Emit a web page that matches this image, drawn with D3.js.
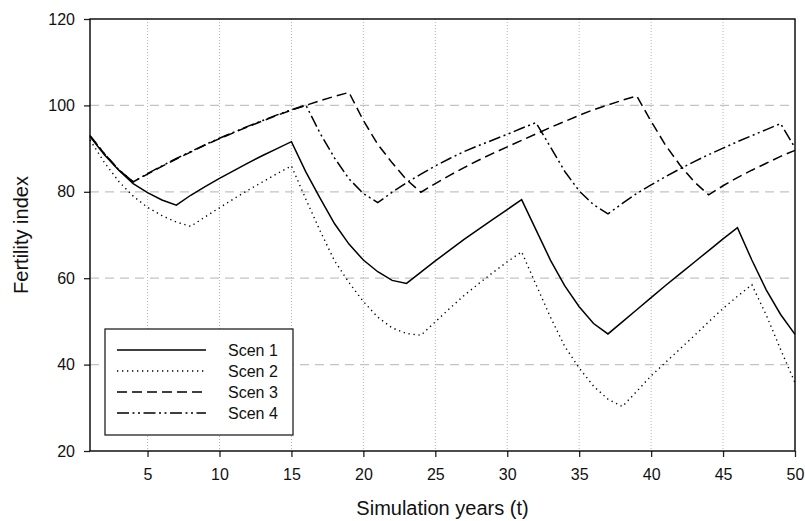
<!DOCTYPE html>
<html>
<head>
<meta charset="utf-8">
<script src="https://cdn.jsdelivr.net/npm/d3@7"></script>
<style>
	body { margin: 0; background: #fff; }
	svg { display: block; font-family: "Liberation Sans", Arial, sans-serif; }
</style>
</head>
<body>
<svg id="chart"></svg>
<script>
'use strict';

// simulation years
var years = [1, 2, 3, 4, 5, 6, 7, 8, 9, 10, 11, 12, 13, 14, 15, 16, 17, 18, 19, 20,
	21, 22, 23, 24, 25, 26, 27, 28, 29, 30, 31, 32, 33, 34, 35, 36, 37, 38, 39, 40,
	41, 42, 43, 44, 45, 46, 47, 48, 49, 50];

// fertility index per scenario
var scen1 = [92.8, 88.6, 85.0, 81.9, 79.8, 78.1, 76.9, 79.2, 81.2, 83.1,
	84.9, 86.7, 88.4, 90.0, 91.6, 84.6, 78.5, 72.6, 67.9, 64.2,
	61.5, 59.5, 58.8, 61.4, 64.0, 66.5, 69.0, 71.3, 73.6, 75.9,
	78.2, 71.2, 64.2, 58.2, 53.4, 49.5, 47.1, 49.9, 52.7, 55.5,
	58.3, 61.0, 63.7, 66.4, 69.1, 71.7, 64.2, 57.3, 51.6, 47.0];
var scen2 = [92.0, 86.8, 82.4, 79.0, 76.4, 74.5, 73.0, 72.0, 74.2, 76.3,
	78.4, 80.4, 82.3, 84.2, 86.0, 78.3, 70.9, 64.0, 59.0, 54.6,
	51.0, 48.5, 47.2, 46.8, 49.9, 53.0, 56.0, 58.7, 61.3, 63.8,
	66.1, 58.5, 51.0, 44.2, 39.2, 35.0, 32.0, 30.3, 33.8, 37.4,
	40.5, 43.6, 46.7, 49.9, 53.0, 55.8, 58.5, 51.5, 43.5, 35.8];
var scen3 = [93.0, 88.8, 85.1, 82.3, 84.1, 85.9, 87.6, 89.2, 90.8, 92.3,
	93.7, 95.1, 96.4, 97.7, 98.9, 100.0, 101.1, 102.1, 103.0, 96.5,
	91.0, 86.7, 82.8, 79.9, 81.9, 83.8, 85.6, 87.3, 88.9, 90.4,
	91.9, 93.4, 94.9, 96.3, 97.7, 99.0, 100.1, 101.2, 102.2, 96.3,
	90.8, 86.2, 82.3, 79.3, 81.4, 83.3, 85.0, 86.6, 88.2, 89.6];
var scen4 = [93.0, 88.8, 85.1, 82.3, 84.2, 86.0, 87.7, 89.3, 90.9, 92.4,
	93.8, 95.2, 96.5, 97.8, 99.0, 100.1, 93.5, 87.8, 83.0, 79.6,
	77.5, 79.9, 82.1, 84.1, 86.0, 87.7, 89.3, 90.7, 92.0, 93.3,
	94.7, 96.0, 90.4, 84.7, 80.2, 77.0, 74.9, 77.3, 79.6, 81.6,
	83.5, 85.3, 87.0, 88.6, 90.1, 91.6, 93.0, 94.4, 95.8, 90.2];

var seriesNames = ['Scen 1', 'Scen 2', 'Scen 3', 'Scen 4'];
var seriesValues = [scen1, scen2, scen3, scen4];

// tick labels
var xTicks = [5, 10, 15, 20, 25, 30, 35, 40, 45, 50];
var yTicks = [20, 40, 60, 80, 100, 120];
var yGrid = [40, 60, 80, 100];

var xTitle = 'Simulation years (t)';
var yTitle = 'Fertility index';

// line styles per series
var dashes = [null, '1.3,3.7', '10,5', '12,3.5,2,3.5,2,3.5'];

var width = 805, height = 521;
var margin = {top: 19, right: 10, bottom: 70, left: 90};
var innerW = width - margin.left - margin.right;
var innerH = height - margin.top - margin.bottom;

var svg = d3.select('#chart')
	.attr('width', width)
	.attr('height', height);

var g = svg.append('g')
	.attr('transform', 'translate(' + margin.left + ',' + margin.top + ')');

// scales
var xScale = d3.scaleLinear()
	.domain([1, 50])
	.range([0, innerW]);
var yScale = d3.scaleLinear()
	.domain([20, 120])
	.range([innerH, 0]);

// grid: dotted verticals, dashed horizontals
g.append('g').selectAll('line')
	.data(xTicks.slice(0, -1))
	.enter().append('line')
	.attr('x1', function(d) { return xScale(d); })
	.attr('x2', function(d) { return xScale(d); })
	.attr('y1', 0)
	.attr('y2', innerH)
	.attr('stroke', '#b4b4b4')
	.attr('stroke-width', 1)
	.attr('stroke-dasharray', '1,2');

g.append('g').selectAll('line')
	.data(yGrid)
	.enter().append('line')
	.attr('x1', 0)
	.attr('x2', innerW)
	.attr('y1', function(d) { return yScale(d); })
	.attr('y2', function(d) { return yScale(d); })
	.attr('stroke', '#c4c4c4')
	.attr('stroke-width', 1.3)
	.attr('stroke-dasharray', '9,6');

// data lines
var line = d3.line()
	.x(function(d, i) { return xScale(years[i]); })
	.y(function(d) { return yScale(d); });

g.append('g').selectAll('path')
	.data(seriesValues)
	.enter().append('path')
	.attr('d', line)
	.attr('fill', 'none')
	.attr('stroke', '#000')
	.attr('stroke-width', function(d, i) { return i === 1 ? 1.4 : 1.5; })
	.attr('stroke-dasharray', function(d, i) { return dashes[i]; });

// axes
var xAxis = g.append('g')
	.attr('transform', 'translate(0,' + innerH + ')')
	.call(d3.axisBottom(xScale).tickValues(xTicks).tickSize(6).tickSizeOuter(0).tickPadding(12));
var yAxis = g.append('g')
	.call(d3.axisLeft(yScale).tickValues(yTicks).tickSize(6).tickSizeOuter(0).tickPadding(9));

[xAxis, yAxis].forEach(function(ax) {
	ax.select('.domain').remove();
	ax.selectAll('line').attr('stroke', '#222').attr('stroke-width', 1.3);
	ax.selectAll('text')
		.attr('fill', '#111')
		.style('font-size', '16px')
		.style('font-family', '"Liberation Sans", Arial, sans-serif');
});

// frame
g.append('rect')
	.attr('x', 0)
	.attr('y', 0)
	.attr('width', innerW)
	.attr('height', innerH)
	.attr('fill', 'none')
	.attr('stroke', '#000')
	.attr('stroke-width', 1.4);

// axis titles
svg.append('text')
	.attr('x', margin.left + innerW / 2)
	.attr('y', 515)
	.attr('text-anchor', 'middle')
	.style('font-size', '20px')
	.attr('fill', '#111')
	.text(xTitle);

svg.append('text')
	.attr('transform', 'translate(28,' + (margin.top + innerH / 2) + ') rotate(-90)')
	.attr('text-anchor', 'middle')
	.style('font-size', '20px')
	.attr('fill', '#111')
	.text(yTitle);

// legend
var legend = svg.append('g').attr('transform', 'translate(105,329)');
legend.append('rect')
	.attr('width', 188)
	.attr('height', 106)
	.attr('fill', '#fff')
	.attr('stroke', '#222')
	.attr('stroke-width', 1.3);

var rows = legend.selectAll('g.row')
	.data(seriesNames)
	.enter().append('g')
	.attr('class', 'row')
	.attr('transform', function(d, i) { return 'translate(0,' + (21 + i * 21) + ')'; });

rows.append('line')
	.attr('x1', 12)
	.attr('x2', 101)
	.attr('stroke', '#000')
	.attr('stroke-width', function(d, i) { return i === 1 ? 1.4 : 1.5; })
	.attr('stroke-dasharray', function(d, i) { return dashes[i]; });

rows.append('text')
	.attr('x', 123)
	.attr('dy', '0.35em')
	.style('font-size', '16px')
	.attr('fill', '#111')
	.text(function(d) { return d; });
</script>
</body>
</html>
